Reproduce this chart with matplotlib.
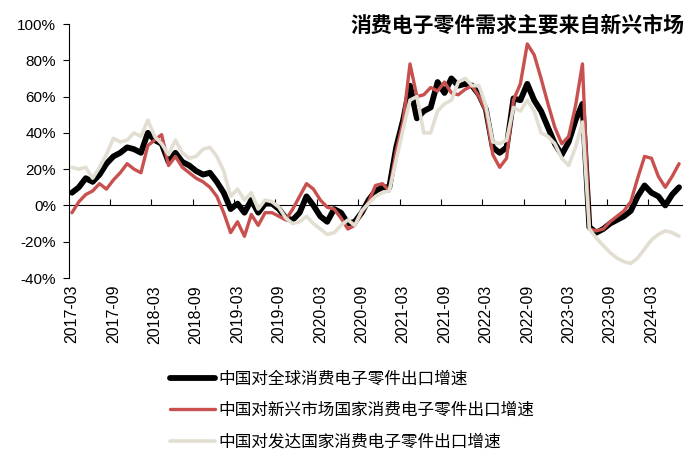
import numpy as np
import matplotlib
matplotlib.use('Agg')
import matplotlib.pyplot as plt
from matplotlib.ticker import FuncFormatter

plt.rcParams['font.family'] = ['Liberation Sans', 'Noto Sans CJK SC', 'DejaVu Sans']

# monthly growth rates (%), 2017-03 .. 2024-07
world = [7, 10, 15, 13, 17, 23, 27, 29, 32, 31, 29, 40, 36, 34, 24, 29, 24, 22, 19, 17,
         18, 13, 7, -2, 1, -4, 3, -4, 1, 1, -2, -7, -8, -4, 5, 0, -6, -9, -2, -4,
         -10, -9, -4, 3, 8, 10, 10, 32, 47, 66, 48, 52, 54, 68, 62, 70, 66, 67, 66, 61,
         53, 32, 29, 32, 59, 58, 67, 58, 52, 43, 34, 28, 35, 47, 56, -12, -15, -13, -10, -8,
         -6, -3, 5, 11, 7, 5, 0, 6, 10]
emerging = [-4, 2, 6, 8, 12, 9, 14, 18, 23, 20, 18, 33, 36, 39, 22, 27, 21, 18, 15, 13,
            10, 5, -4, -15, -9, -17, -5, -11, -4, -4, -6, -8, -2, 5, 12, 9, 3, -1, -2, -7,
            -13, -11, -4, 2, 11, 12, 8, 30, 46, 78, 60, 61, 65, 63, 68, 62, 61, 64, 66, 60,
            52, 28, 21, 26, 58, 67, 89, 83, 70, 56, 43, 34, 38, 55, 78, -13, -14, -13, -9, -6,
            -3, 2, 15, 27, 26, 16, 10, 16, 23]
developed = [21, 20, 21, 15, 21, 28, 37, 35, 36, 40, 38, 47, 38, 34, 28, 36, 29, 26, 27, 31,
             32, 27, 19, 5, 9, 3, 7, -2, 3, 2, -1, -7, -10, -9, -6, -10, -13, -16, -15, -11,
             -8, -11, -3, 1, 5, 7, 8, 25, 42, 58, 60, 40, 40, 52, 56, 58, 68, 70, 66, 66,
             55, 35, 34, 36, 54, 52, 58, 52, 40, 38, 34, 26, 22, 32, 46, -13, -18, -22, -26, -29,
             -31, -32, -29, -24, -19, -16, -14, -15, -17]

tick_labels = ['2017-03', '2017-09', '2018-03', '2018-09', '2019-03', '2019-09', '2020-03',
               '2020-09', '2021-03', '2021-09', '2022-03', '2022-09', '2023-03', '2023-09',
               '2024-03']

names = ['中国对全球消费电子零件出口增速',
         '中国对新兴市场国家消费电子零件出口增速',
         '中国对发达国家消费电子零件出口增速']

x = np.arange(len(world))
label_pos = np.arange(len(tick_labels)) * 6

fig = plt.figure(figsize=(7, 4.67), dpi=100)
ax = fig.add_axes([68.5 / 700, 1 - 278 / 467, 614 / 700, 254 / 467])

ax.plot(x, world, color='black', lw=4.2, solid_capstyle='round', label=names[0], zorder=3)
ax.plot(x, emerging, color='#C8504E', lw=2.4, solid_capstyle='round', label=names[1], zorder=4)
ax.plot(x, developed, color='#E2DFD2', lw=2.6, solid_capstyle='round', label=names[2], zorder=5)

ax.set_xlim(-0.5, len(world) - 0.5)
ax.set_ylim(-40, 100)
ax.set_yticks(range(-40, 101, 20))
ax.yaxis.set_major_formatter(FuncFormatter(lambda v, p: f'{v:.0f}%'))
ax.tick_params(axis='y', direction='out', length=4, width=0.8, labelsize=11, pad=5)

ax.spines['top'].set_visible(False)
ax.spines['right'].set_visible(False)
ax.spines['bottom'].set_position(('data', 0))
ax.spines['left'].set_linewidth(0.8)
ax.spines['bottom'].set_linewidth(0.8)
ax.set_xticks(label_pos[1:] - 0.5)
ax.tick_params(axis='x', direction='in', length=4, width=0.8, labelbottom=False)

sec = ax.secondary_xaxis(0)
sec.set_xticks(label_pos, tick_labels)
sec.tick_params(length=0, labelsize=11.5, rotation=90, pad=5)
sec.spines['bottom'].set_visible(False)

fig.text(684 / 700, 1 - 25 / 467, '消费电子零件需求主要来自新兴市场', ha='right', va='center',
         fontsize=15, fontweight='bold', family=['Noto Sans CJK SC', 'DejaVu Sans'])

leg = fig.legend(loc='upper left', bbox_to_anchor=(170 / 700, 1 - 371 / 467), frameon=False,
                 prop={'family': ['Noto Sans CJK SC', 'DejaVu Sans'], 'size': 12},
                 handlelength=2.7, handletextpad=0.2, labelspacing=0.85,
                 borderpad=0, borderaxespad=0)
for line in leg.get_lines():
    line.set_solid_capstyle('round')

fig.savefig('out.png', dpi=100)
